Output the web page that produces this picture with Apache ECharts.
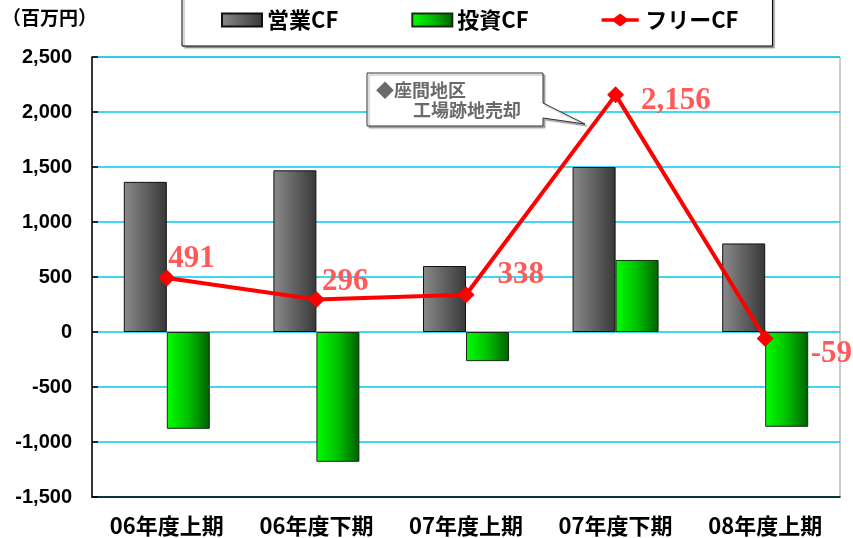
<!DOCTYPE html>
<html>
<head>
<meta charset="utf-8">
<script src="https://cdn.jsdelivr.net/npm/echarts@6/dist/echarts.min.js"></script>
<style>
  html, body { margin: 0; padding: 0; background: #fff; }
  #myChart { width: 853px; height: 538px; }
</style>
</head>
<body>
<div id="myChart"></div>
<script>
// 期間
var categories = ['06年度上期', '06年度下期', '07年度上期', '07年度下期', '08年度上期'];
// 営業CF
var operatingCF = [1365, 1470, 600, 1500, 805];
// 投資CF
var investingCF = [-880, -1180, -265, 655, -862];
// フリーCF
var freeCF = [491, 296, 338, 2156, -59];
// ラベルのずらし量
var labelOffsets = [[-7, -19], [-3, -17], [23, -20], [17, 6], [37, 15]];

var JP = '"Noto Sans CJK JP", "Liberation Sans", sans-serif';

var myChart = echarts.init(document.getElementById('myChart'));

myChart.setOption({
  backgroundColor: '#ffffff',
  animation: false,
  textStyle: { fontFamily: JP },
  grid: {
    left: 92, right: 13, top: 57, bottom: 41,
    show: true, borderColor: '#9a9a9a', borderWidth: 1
  },
  legend: {
    left: 182, top: -10,
    padding: [19, 34, 15, 39],
    itemGap: 73,
    itemWidth: 40, itemHeight: 13,
    borderColor: '#000', borderWidth: 1,
    shadowColor: 'rgba(0,0,0,0.35)', shadowOffsetX: 2, shadowOffsetY: 2, shadowBlur: 1,
    backgroundColor: '#fff',
    textStyle: { fontSize: 22, fontWeight: 'bold', color: '#000', fontFamily: JP },
    data: [
      { name: '営業CF', icon: 'rect' },
      { name: '投資CF', icon: 'rect' },
      {
        name: 'フリーCF',
        icon: 'path://M0,5 L13,5 L20,0 L27,5 L40,5 L40,9 L27,9 L20,14 L13,9 L0,9 Z',
        itemStyle: { color: '#ff0000', borderWidth: 0 }
      }
    ]
  },
  xAxis: [
    {
      type: 'category',
      position: 'bottom',
      data: categories,
      axisLine: { show: false },
      axisTick: { show: false },
      axisLabel: { margin: 18, fontSize: 22, fontWeight: 'bold', color: '#000', fontFamily: JP }
    },
    {
      type: 'category',
      position: 'bottom',
      data: categories,
      axisLine: { onZero: true, lineStyle: { color: '#000', width: 1.5 } },
      axisTick: { inside: true, length: 6, lineStyle: { color: '#000', width: 1.5 } },
      axisLabel: { show: false }
    }
  ],
  yAxis: {
    type: 'value',
    min: -1500, max: 2500, interval: 500,
    axisLine: { show: true, lineStyle: { color: '#000', width: 1.5 } },
    axisTick: { show: true, inside: true, length: 6, lineStyle: { color: '#000', width: 1.5 } },
    axisLabel: {
      margin: 20, fontSize: 20, fontWeight: 'bold', color: '#000',
      fontFamily: '"Liberation Sans", Arial, sans-serif'
    },
    splitLine: { lineStyle: { color: '#00c8f0', width: 1.5 } }
  },
  graphic: [
    {
      type: 'text', left: 2, top: 8,
      style: { text: '（百万円）', font: 'bold 19px ' + JP, fill: '#000' }
    },
    {
      // 吹き出し
      type: 'polygon',
      z: 10,
      shape: { points: [[367, 73], [543, 73], [543, 103], [585, 124], [543, 118], [543, 126], [367, 126]] },
      style: { fill: '#fff', stroke: '#333', lineWidth: 1, shadowColor: 'rgba(0,0,0,0.3)', shadowOffsetX: 2, shadowOffsetY: 2, shadowBlur: 1 }
    },
    {
      type: 'text', left: 376, top: 81, z: 11,
      style: { text: '◆座間地区', font: 'bold 18px ' + JP, fill: '#6a6a6a' }
    },
    {
      type: 'text', left: 413, top: 101, z: 11,
      style: { text: '工場跡地売却', font: 'bold 18px ' + JP, fill: '#6a6a6a' }
    }
  ],
  series: [
    {
      name: '営業CF',
      type: 'bar',
      xAxisIndex: 0,
      barWidth: 43,
      barGap: '0%',
      data: operatingCF,
      itemStyle: {
        color: new echarts.graphic.LinearGradient(0, 0, 1, 0, [
          { offset: 0, color: '#8a8a8a' },
          { offset: 1, color: '#383838' }
        ]),
        borderColor: '#111', borderWidth: 1
      }
    },
    {
      name: '投資CF',
      type: 'bar',
      xAxisIndex: 0,
      barWidth: 43,
      barGap: '0%',
      data: investingCF,
      itemStyle: {
        color: new echarts.graphic.LinearGradient(0, 0, 1, 0, [
          { offset: 0, color: '#00ff00' },
          { offset: 0.5, color: '#00c000' },
          { offset: 1, color: '#006000' }
        ]),
        borderColor: '#1a2a1a', borderWidth: 1
      }
    },
    {
      name: 'フリーCF',
      type: 'line',
      xAxisIndex: 0,
      z: 5,
      symbol: 'diamond',
      symbolSize: 17,
      data: freeCF.map(function (v, i) {
        return { value: v, label: { offset: labelOffsets[i] } };
      }),
      lineStyle: { color: '#ff0000', width: 4 },
      itemStyle: { color: '#ff0000' },
      label: {
        show: true,
        position: 'right',
        distance: 0,
        fontSize: 31,
        fontWeight: 'bold',
        fontFamily: '"Liberation Serif", "DejaVu Serif", serif',
        color: '#ff5a5a',
        formatter: function (p) { return p.value.toLocaleString('en-US'); }
      }
    }
  ]
});
</script>
</body>
</html>
